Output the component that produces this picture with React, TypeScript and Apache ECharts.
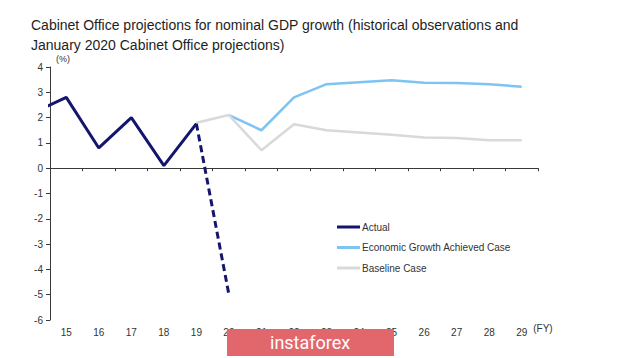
import React, { useEffect, useRef } from "react";
import * as echarts from "echarts";

// Fiscal years (x positions)
const actualYears = [14, 15, 16, 17, 18, 19];
const actualValues = [2.2, 2.8, 0.8, 2.0, 0.1, 1.76];
const actualDashYears = [19, 20];
const actualDashValues = [1.76, -5.0];
const growthYears = [20, 21, 22, 23, 24, 25, 26, 27, 28, 29];
const growthValues = [2.1, 1.5, 2.8, 3.32, 3.4, 3.48, 3.38, 3.37, 3.32, 3.22];
const baselineYears = [19, 20, 21, 22, 23, 24, 25, 26, 27, 28, 29];
const baselineValues = [1.8, 2.1, 0.71, 1.74, 1.5, 1.41, 1.32, 1.21, 1.19, 1.1, 1.1];
const yTickMin = -6;
const yTickMax = 4;

const pair = (xs: number[], ys: number[]) => xs.map((x, i) => [x, ys[i]]);

const NAVY = "#14166e";
const BLUE = "#7fc3f3";
const GRAY = "#d9d9d9";
const FONT = "Liberation Sans, Arial, sans-serif";

export default function App() {
  const ref = useRef<HTMLDivElement>(null);
  useEffect(() => {
    if (!ref.current) return;
    const chart = echarts.init(ref.current, null, { renderer: "svg" });
    chart.setOption({
      animation: false,
      backgroundColor: "#ffffff",
      textStyle: { fontFamily: FONT },
      title: {
        text:
          "Cabinet Office projections for nominal GDP growth (historical observations and\nJanuary 2020 Cabinet Office projections)",
        left: 26,
        top: 10,
        textStyle: {
          fontSize: 14,
          fontWeight: "normal",
          color: "#1e1e1e",
          lineHeight: 20,
          fontFamily: FONT,
        },
      },
      legend: {
        orient: "vertical",
        left: 337,
        top: 221,
        padding: 0,
        icon: "rect",
        itemWidth: 23,
        itemHeight: 3,
        itemGap: 8.5,
        data: ["Actual", "Economic Growth Achieved Case", "Baseline Case"],
        textStyle: { fontSize: 10, color: "#333", lineHeight: 12, fontFamily: FONT, padding: [0, 0, 0, -3] },
      },
      grid: {
        left: 50,
        top: 67,
        right: 82,
        bottom: 38,
        containLabel: false,
        outerBoundsMode: "none",
      },
      xAxis: [
        {
          type: "value",
          min: 14.5,
          max: 29.5,
          interval: 1,
          axisLine: { show: true, onZero: true, lineStyle: { color: "#3a3a3a", width: 1 } },
          axisTick: { show: true, length: 3, lineStyle: { color: "#3a3a3a" } },
          axisLabel: { show: false },
          splitLine: { show: false },
        },
        {
          type: "value",
          min: 14.5,
          max: 29.5,
          interval: 0.5,
          position: "bottom",
          name: "(FY)",
          nameLocation: "end",
          nameGap: -8,
          nameTextStyle: {
            fontSize: 10,
            color: "#333",
            verticalAlign: "top",
            padding: [3, 0, 0, 0],
            fontFamily: FONT,
          },
          axisLine: { show: false, onZero: false },
          axisTick: { show: false },
          splitLine: { show: false },
          axisLabel: {
            fontSize: 10,
            color: "#333",
            margin: 7,
            fontFamily: FONT,
            formatter: (v: number) => (Number.isInteger(v) ? String(v) : ""),
          },
        },
      ],
      yAxis: {
        type: "value",
        min: yTickMin,
        max: yTickMax,
        interval: 1,
        name: "(%)",
        nameLocation: "end",
        nameGap: 4,
        nameTextStyle: { fontSize: 9, color: "#333", align: "left", padding: [0, 0, 0, 6], fontFamily: FONT },
        axisLine: { show: true, lineStyle: { color: "#3a3a3a", width: 1 } },
        axisTick: { show: true, length: 4, lineStyle: { color: "#3a3a3a" } },
        axisLabel: { fontSize: 10, color: "#333", margin: 7, fontFamily: FONT },
        splitLine: { show: false },
      },
      series: [
        {
          name: "Economic Growth Achieved Case",
          type: "line",
          xAxisIndex: 0,
          data: pair(growthYears, growthValues),
          showSymbol: false,
          symbol: "none",
          lineStyle: { color: BLUE, width: 2.5 },
          itemStyle: { color: BLUE },
          z: 2,
        },
        {
          name: "Baseline Case",
          type: "line",
          xAxisIndex: 0,
          data: pair(baselineYears, baselineValues),
          showSymbol: false,
          symbol: "none",
          lineStyle: { color: GRAY, width: 2.5 },
          itemStyle: { color: GRAY },
          z: 3,
        },
        {
          name: "Actual",
          type: "line",
          xAxisIndex: 0,
          data: pair(actualYears, actualValues),
          showSymbol: false,
          symbol: "none",
          clip: true,
          lineStyle: { color: NAVY, width: 3 },
          itemStyle: { color: NAVY },
          z: 4,
        },
        {
          name: "Actual (dashed)",
          type: "line",
          xAxisIndex: 0,
          data: pair(actualDashYears, actualDashValues),
          showSymbol: false,
          symbol: "none",
          lineStyle: { color: NAVY, width: 3, type: [7, 4] },
          itemStyle: { color: NAVY },
          z: 4,
        },
      ],
      graphic: [
        {
          type: "rect",
          left: 227,
          top: 329,
          shape: { width: 167, height: 27 },
          style: { fill: "#e2676d" },
          z: 100,
        },
        {
          type: "text",
          left: 270,
          top: 333,
          style: {
            text: "instaforex",
            fill: "#ffffff",
            font: "18px Roboto, sans-serif",
          },
          z: 101,
        },
      ],
    });
    return () => chart.dispose();
  }, []);
  return (
    <div
      ref={ref}
      style={{ position: "fixed", left: 0, top: 0, width: 620, height: 358, background: "#fff" }}
    />
  );
}
